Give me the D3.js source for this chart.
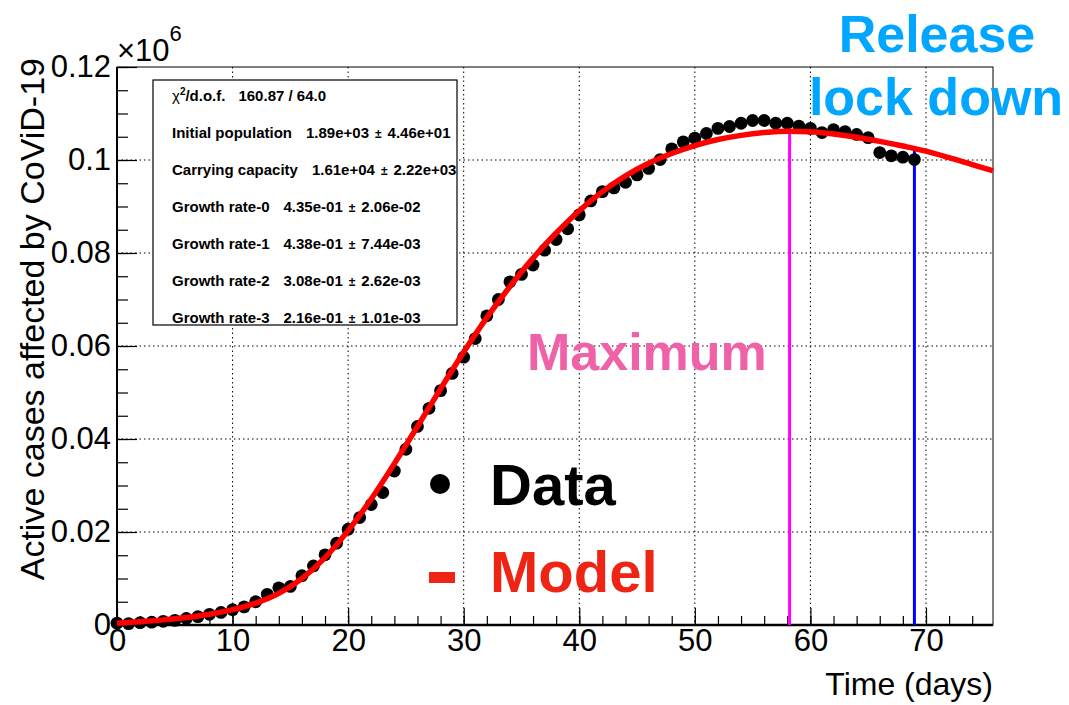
<!DOCTYPE html>
<html>
<head>
<meta charset="utf-8">
<script src="https://d3js.org/d3.v7.min.js"></script>
<style>
  body { margin: 0; background: #fff; }
  svg { font-family: "Liberation Sans", Arial, Helvetica, sans-serif; }
  .grid line { stroke: #000; stroke-width: 1; stroke-dasharray: 1.5,3; }
  .stats text { font-size: 15px; font-weight: bold; }
</style>
</head>
<body>
<svg id="chart" width="1069" height="705"></svg>
<script>
// observed active cases (units of 1e6), one point per day
var days = [0, 1, 2, 3, 4, 5, 6, 7, 8, 9, 10, 11, 12, 13, 14, 15, 16, 17, 18, 19,
            20, 21, 22, 23, 24, 25, 26, 27, 28, 29, 30, 31, 32, 33, 34, 35, 36, 37, 38, 39,
            40, 41, 42, 43, 44, 45, 46, 47, 48, 49, 50, 51, 52, 53, 54, 55, 56, 57, 58, 59,
            60, 61, 62, 63, 64, 65, 66, 67, 68, 69];
var cases = [0.0004, 0.0003, 0.0005, 0.0006, 0.0008, 0.0010, 0.0014, 0.0018, 0.0023, 0.0027,
             0.0033, 0.0039, 0.0050, 0.0066, 0.0080, 0.0083, 0.0106, 0.0127, 0.0151, 0.0176,
             0.0206, 0.0231, 0.0259, 0.0285, 0.0331, 0.0378, 0.0427, 0.0466, 0.0504, 0.0541,
             0.0576, 0.0616, 0.0665, 0.0700, 0.0738, 0.0754, 0.0774, 0.0806, 0.0829, 0.0852,
             0.0882, 0.0912, 0.0932, 0.0940, 0.0952, 0.0968, 0.0982, 0.1001, 0.1024, 0.1039,
             0.1047, 0.1057, 0.1068, 0.1072, 0.1079, 0.1085, 0.1085, 0.1079, 0.1079, 0.1073,
             0.1068, 0.1059, 0.1065, 0.1061, 0.1055, 0.1048, 0.1016, 0.1009, 0.1006, 0.1001];

// fitted model curve
var modelDays = [0, 2, 4, 6, 8, 10, 12, 14, 16, 18, 20, 22, 24, 26, 28, 30, 32, 34, 36, 38,
                 40, 42, 44, 46, 48, 50, 52, 54, 56, 58, 60, 62, 64, 66, 68, 70, 72, 74, 75.8];
var modelValues = [0.0004, 0.0007, 0.0011, 0.0016, 0.0023, 0.0033, 0.0047, 0.0068, 0.0100, 0.0145,
                   0.0203, 0.0271, 0.0347, 0.0427, 0.0508, 0.0587, 0.0661, 0.0728, 0.0789, 0.0843,
                   0.0891, 0.0932, 0.0966, 0.0993, 0.1014, 0.1031, 0.1044, 0.1053, 0.1059, 0.1062,
                   0.1061, 0.1056, 0.1049, 0.1040, 0.1030, 0.1019, 0.1005, 0.0990, 0.0977];

// vertical markers: maximum and lock-down release
var markerNames = ["Maximum", "Release"];
var markerDays = [58.2, 69];
var markerTops = [0.1062, 0.1026];
var markerColors = ["#ff00ff", "#0000ff"];

var xTicks = [0, 10, 20, 30, 40, 50, 60, 70];
var yTicks = [0, 0.02, 0.04, 0.06, 0.08, 0.1, 0.12];

var statsLabels = ["Initial population", "Carrying capacity", "Growth rate-0",
                   "Growth rate-1", "Growth rate-2", "Growth rate-3"];
var statsValues = ["1.89e+03", "1.61e+04", "4.35e-01", "4.38e-01", "3.08e-01", "2.16e-01"];
var statsErrors = ["4.46e+01", "2.22e+03", "2.06e-02", "7.44e-03", "2.62e-03", "1.01e-03"];
var chi2Text = "160.87 / 64.0";

var svg = d3.select("#chart");
var plotLeft = 117, plotRight = 993, plotTop = 67, plotBottom = 625;

var x = d3.scaleLinear().domain([0, 75.8]).range([plotLeft, plotRight]);
var y = d3.scaleLinear().domain([0, 0.12]).range([plotBottom, plotTop]);

// grid
var grid = svg.append("g").attr("class", "grid");
grid.selectAll(".gx").data(xTicks.filter(function(d) { return d > 0; })).enter().append("line")
    .attr("x1", function(d) { return x(d); }).attr("x2", function(d) { return x(d); })
    .attr("y1", plotTop).attr("y2", plotBottom);
grid.selectAll(".gy").data(yTicks.filter(function(d) { return d > 0 && d < 0.12; })).enter().append("line")
    .attr("y1", function(d) { return y(d); }).attr("y2", function(d) { return y(d); })
    .attr("x1", plotLeft).attr("x2", plotRight);

// frame
svg.append("rect").attr("x", plotLeft).attr("y", plotTop)
    .attr("width", plotRight - plotLeft).attr("height", plotBottom - plotTop)
    .attr("fill", "none").attr("stroke", "#000").attr("stroke-width", 1);

// axes
var xAxisMinor = d3.axisBottom(x).tickValues(d3.range(0, 76, 2)).tickSize(-9).tickFormat("");
var xAxis = d3.axisBottom(x).tickValues(xTicks).tickSize(-17).tickPadding(4)
    .tickFormat(d3.format("d"));
var yAxisMinor = d3.axisLeft(y).tickValues(d3.range(0, 0.1201, 0.005)).tickSize(-11).tickFormat("");
var yAxis = d3.axisLeft(y).tickValues(yTicks).tickSize(-20).tickPadding(6)
    .tickFormat(function(d) { return d === 0 ? "0" : String(+d.toFixed(2)); });

function styleAxis(g) {
  g.select(".domain").remove();
  g.selectAll("line").attr("stroke", "#000").attr("stroke-width", 1.2);
  g.selectAll("text").attr("font-size", 31).attr("fill", "#000")
    .attr("font-family", "'Liberation Sans', Arial, Helvetica, sans-serif");
}
svg.append("g").attr("transform", "translate(0," + plotBottom + ")").call(xAxisMinor).call(styleAxis);
svg.append("g").attr("transform", "translate(0," + plotBottom + ")").call(xAxis).call(styleAxis);
svg.append("g").attr("transform", "translate(" + plotLeft + ",0)").call(yAxisMinor).call(styleAxis);
svg.append("g").attr("transform", "translate(" + plotLeft + ",0)").call(yAxis).call(styleAxis)
    .selectAll("text").attr("x", -6);

svg.append("line").attr("x1", plotLeft).attr("x2", plotRight).attr("y1", plotBottom).attr("y2", plotBottom)
    .attr("stroke", "#000").attr("stroke-width", 2.5);
svg.append("line").attr("x1", plotLeft).attr("x2", plotLeft).attr("y1", plotTop).attr("y2", plotBottom)
    .attr("stroke", "#000").attr("stroke-width", 2);

// axis titles
svg.append("text").attr("x", plotRight).attr("y", 695).attr("text-anchor", "end")
    .attr("font-size", 32).text("Time (days)");
svg.append("text").attr("transform", "translate(44,58) rotate(-90)").attr("text-anchor", "end")
    .attr("font-size", 34).text("Active cases affected by CoViD-19");
var exp = svg.append("text").attr("x", 117).attr("y", 61).attr("font-size", 31);
exp.append("tspan").text("×10");
exp.append("tspan").attr("font-size", 22).attr("dy", -20).text("6");

// stats box
var stats = svg.append("g").attr("class", "stats");
stats.append("rect").attr("x", 153).attr("y", 80).attr("width", 304).attr("height", 245)
    .attr("fill", "#fff").attr("stroke", "#000").attr("stroke-width", 1.2);
var chi = stats.append("text").attr("x", 172).attr("y", 101);
chi.append("tspan").attr("font-weight", "normal").text("χ");
chi.append("tspan").attr("font-size", 10).attr("dy", -6).text("2");
chi.append("tspan").attr("dy", 6).text("/d.o.f.");
chi.append("tspan").attr("dx", 13).text(chi2Text);
statsLabels.forEach(function(label, i) {
  var t = stats.append("text").attr("x", 172).attr("y", 138 + i * 37);
  t.append("tspan").text(label);
  t.append("tspan").attr("dx", 14).text(statsValues[i]);
  t.append("tspan").attr("dx", 6).attr("font-size", 12).text("±");
  t.append("tspan").attr("dx", 6).text(statsErrors[i]);
});

// marker lines
svg.selectAll(".marker").data(markerDays).enter().append("line")
    .attr("x1", function(d) { return x(d); }).attr("x2", function(d) { return x(d); })
    .attr("y1", plotBottom).attr("y2", function(d, i) { return y(markerTops[i]); })
    .attr("stroke", function(d, i) { return markerColors[i]; }).attr("stroke-width", 3);

// data points
svg.append("g").selectAll("circle").data(days).enter().append("circle")
    .attr("cx", function(d) { return x(d); })
    .attr("cy", function(d, i) { return y(cases[i]); })
    .attr("r", 6.4).attr("fill", "#000");

// model curve
var line = d3.line()
    .x(function(d) { return x(d); })
    .y(function(d, i) { return y(modelValues[i]); })
    .curve(d3.curveMonotoneX);
svg.append("path").datum(modelDays).attr("d", line)
    .attr("fill", "none").attr("stroke", "#ff0000").attr("stroke-width", 5.5);

// annotations
svg.append("text").attr("x", 937).attr("y", 52).attr("text-anchor", "middle")
    .attr("font-size", 52).attr("font-weight", "bold").attr("fill", "#00a6ff").text("Release");
svg.append("text").attr("x", 936).attr("y", 115).attr("text-anchor", "middle")
    .attr("font-size", 52).attr("font-weight", "bold").attr("fill", "#00a6ff").text("lock down");
svg.append("text").attr("x", 527).attr("y", 370)
    .attr("font-size", 52).attr("font-weight", "bold").attr("fill", "#f062a8").text("Maximum");

svg.append("circle").attr("cx", 440).attr("cy", 484).attr("r", 10).attr("fill", "#000");
svg.append("text").attr("x", 490).attr("y", 505)
    .attr("font-size", 58).attr("font-weight", "bold").attr("fill", "#000").text("Data");
svg.append("rect").attr("x", 429).attr("y", 572).attr("width", 26).attr("height", 11).attr("fill", "#ee2415");
svg.append("text").attr("x", 490).attr("y", 592)
    .attr("font-size", 58).attr("font-weight", "bold").attr("fill", "#ee2415").text("Model");
</script>
</body>
</html>
